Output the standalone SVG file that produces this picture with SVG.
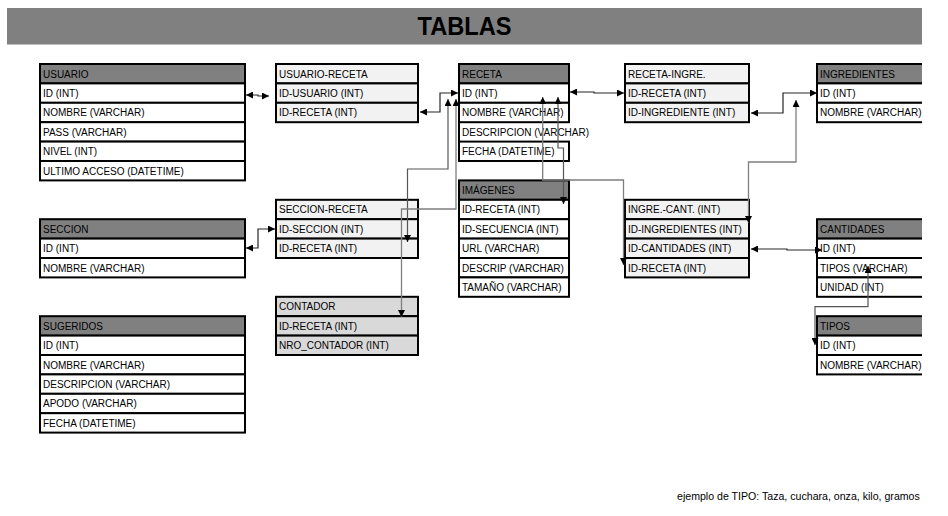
<svg xmlns="http://www.w3.org/2000/svg" width="948" height="516" viewBox="0 0 948 516">
<style>
.h{fill:#808080;stroke:#000;stroke-width:2}
.r{fill:#fff;stroke:#000;stroke-width:2}
.l{fill:#f2f2f2;stroke:#000;stroke-width:2}
.c{fill:#d9d9d9;stroke:#000;stroke-width:2}
text{font-family:"Liberation Sans",Arial,sans-serif;font-size:10px;fill:#000}
.k{fill:none;stroke:#262626;stroke-width:1.2;marker-start:url(#a);marker-end:url(#a)}
.g{fill:none;stroke:#7f7f7f;stroke-width:1.3;marker-start:url(#a);marker-end:url(#a)}
.m{fill:none;stroke:#555;stroke-width:1.2;marker-start:url(#a);marker-end:url(#a)}
</style>
<defs>
<marker id="a" markerUnits="userSpaceOnUse" markerWidth="8" markerHeight="7" refX="7" refY="3.5" orient="auto-start-reverse"><path d="M0,0 L7,3.5 L0,7 z" fill="#000"/></marker>
<clipPath id="cr"><rect x="0" y="0" width="922" height="516"/></clipPath>
</defs>
<rect x="0" y="0" width="948" height="516" fill="#fff"/>
<g id="title">
<rect x="7" y="8" width="915" height="36.5" fill="#808080"/>
<text x="464.5" y="35" text-anchor="middle" style="font-size:25px;font-weight:bold" textLength="94" lengthAdjust="spacingAndGlyphs">TABLAS</text>
</g>

<g id="usuario">
<rect class="h" x="40" y="64" width="205" height="19.4"/>
<rect class="r" x="40" y="83.4" width="205" height="19.4"/>
<rect class="r" x="40" y="102.8" width="205" height="19.4"/>
<rect class="r" x="40" y="122.2" width="205" height="19.4"/>
<rect class="r" x="40" y="141.6" width="205" height="19.4"/>
<rect class="r" x="40" y="161" width="205" height="19.4"/>
<text x="43" y="77.5">USUARIO</text>
<text x="43" y="96.9">ID (INT)</text>
<text x="43" y="116.3">NOMBRE (VARCHAR)</text>
<text x="43" y="135.7">PASS (VARCHAR)</text>
<text x="43" y="155.1">NIVEL (INT)</text>
<text x="43" y="174.5">ULTIMO ACCESO (DATETIME)</text>
</g>

<g id="usuario-receta">
<rect class="l" x="276" y="64" width="142" height="19.4"/>
<rect class="l" x="276" y="83.4" width="142" height="19.4"/>
<rect class="l" x="276" y="102.8" width="142" height="19.4"/>
<text x="279" y="77.5">USUARIO-RECETA</text>
<text x="279" y="96.9">ID-USUARIO (INT)</text>
<text x="279" y="116.3">ID-RECETA (INT)</text>
</g>

<g id="receta">
<rect class="h" x="459" y="64" width="110" height="19.4"/>
<rect class="r" x="459" y="83.4" width="110" height="19.4"/>
<rect class="r" x="459" y="102.8" width="110" height="19.4"/>
<rect class="r" x="459" y="141.6" width="110" height="19.4"/>
<line x1="459" y1="122.2" x2="459" y2="141.6" stroke="#000" stroke-width="2"/>
<text x="462" y="77.5">RECETA</text>
<text x="462" y="96.9">ID (INT)</text>
<text x="462" y="116.3">NOMBRE (VARCHAR)</text>
<text x="462" y="135.7">DESCRIPCION (VARCHAR)</text>
<text x="462" y="155.1">FECHA (DATETIME)</text>
</g>

<g id="receta-ingre">
<rect class="l" x="625" y="64" width="124" height="19.4"/>
<rect class="l" x="625" y="83.4" width="124" height="19.4"/>
<rect class="l" x="625" y="102.8" width="124" height="19.4"/>
<text x="628" y="77.5">RECETA-INGRE.</text>
<text x="628" y="96.9">ID-RECETA (INT)</text>
<text x="628" y="116.3">ID-INGREDIENTE (INT)</text>
</g>

<g id="ingredientes" clip-path="url(#cr)">
<rect class="h" x="817" y="64" width="110" height="19.4"/>
<rect class="r" x="817" y="83.4" width="110" height="19.4"/>
<rect class="r" x="817" y="102.8" width="110" height="19.4"/>
<text x="820" y="77.5">INGREDIENTES</text>
<text x="820" y="96.9">ID (INT)</text>
<text x="820" y="116.3">NOMBRE (VARCHAR)</text>
</g>

<g id="imagenes">
<rect class="h" x="459" y="180.4" width="110" height="19.4"/>
<rect class="r" x="459" y="199.8" width="110" height="19.4"/>
<rect class="r" x="459" y="219.2" width="110" height="19.4"/>
<rect class="r" x="459" y="238.6" width="110" height="19.4"/>
<rect class="r" x="459" y="258" width="110" height="19.4"/>
<rect class="r" x="459" y="277.4" width="110" height="19.4"/>
<text x="462" y="193.9">IMÁGENES</text>
<text x="462" y="213.3">ID-RECETA (INT)</text>
<text x="462" y="232.7">ID-SECUENCIA (INT)</text>
<text x="462" y="252.1">URL (VARCHAR)</text>
<text x="462" y="271.5">DESCRIP (VARCHAR)</text>
<text x="462" y="290.9">TAMAÑO (VARCHAR)</text>
</g>

<g id="seccion-receta">
<rect class="l" x="276" y="199.8" width="142" height="19.4"/>
<rect class="l" x="276" y="219.2" width="142" height="19.4"/>
<rect class="l" x="276" y="238.6" width="142" height="19.4"/>
<text x="279" y="213.3">SECCION-RECETA</text>
<text x="279" y="232.7">ID-SECCION (INT)</text>
<text x="279" y="252.1">ID-RECETA (INT)</text>
</g>

<g id="contador">
<rect class="c" x="276" y="296.8" width="142" height="19.4"/>
<rect class="c" x="276" y="316.2" width="142" height="19.4"/>
<rect class="c" x="276" y="335.6" width="142" height="19.4"/>
<text x="279" y="310.3">CONTADOR</text>
<text x="279" y="329.7">ID-RECETA (INT)</text>
<text x="279" y="349.1">NRO_CONTADOR (INT)</text>
</g>

<g id="seccion">
<rect class="h" x="40" y="219.2" width="205" height="19.4"/>
<rect class="r" x="40" y="238.6" width="205" height="19.4"/>
<rect class="r" x="40" y="258" width="205" height="19.4"/>
<text x="43" y="232.7">SECCION</text>
<text x="43" y="252.1">ID (INT)</text>
<text x="43" y="271.5">NOMBRE (VARCHAR)</text>
</g>

<g id="sugeridos">
<rect class="h" x="40" y="316.2" width="205" height="19.4"/>
<rect class="r" x="40" y="335.6" width="205" height="19.4"/>
<rect class="r" x="40" y="355" width="205" height="19.4"/>
<rect class="r" x="40" y="374.4" width="205" height="19.4"/>
<rect class="r" x="40" y="393.8" width="205" height="19.4"/>
<rect class="r" x="40" y="413.2" width="205" height="19.4"/>
<text x="43" y="329.7">SUGERIDOS</text>
<text x="43" y="349.1">ID (INT)</text>
<text x="43" y="368.5">NOMBRE (VARCHAR)</text>
<text x="43" y="387.9">DESCRIPCION (VARCHAR)</text>
<text x="43" y="407.3">APODO (VARCHAR)</text>
<text x="43" y="426.7">FECHA (DATETIME)</text>
</g>

<g id="ingre-cant">
<rect class="l" x="625" y="199.8" width="124" height="19.4"/>
<rect class="l" x="625" y="219.2" width="124" height="19.4"/>
<rect class="l" x="625" y="238.6" width="124" height="19.4"/>
<rect class="l" x="625" y="258" width="124" height="19.4"/>
<text x="628" y="213.3">INGRE.-CANT. (INT)</text>
<text x="628" y="232.7">ID-INGREDIENTES (INT)</text>
<text x="628" y="252.1">ID-CANTIDADES (INT)</text>
<text x="628" y="271.5">ID-RECETA (INT)</text>
</g>

<g id="cantidades" clip-path="url(#cr)">
<rect class="h" x="817" y="219.2" width="110" height="19.4"/>
<rect class="r" x="817" y="238.6" width="110" height="19.4"/>
<rect class="r" x="817" y="258" width="110" height="19.4"/>
<rect class="r" x="817" y="277.4" width="110" height="19.4"/>
<text x="820" y="232.7">CANTIDADES</text>
<text x="820" y="252.1">ID (INT)</text>
<text x="820" y="271.5">TIPOS (VARCHAR)</text>
<text x="820" y="290.9">UNIDAD (INT)</text>
</g>

<g id="tipos" clip-path="url(#cr)">
<rect class="h" x="817" y="316.2" width="110" height="19.4"/>
<rect class="r" x="817" y="335.6" width="110" height="19.4"/>
<rect class="r" x="817" y="355" width="110" height="19.4"/>
<text x="820" y="329.7">TIPOS</text>
<text x="820" y="349.1">ID (INT)</text>
<text x="820" y="368.5">NOMBRE (VARCHAR)</text>
</g>

<g id="connectors">
<path class="k" d="M246,95 L258,95 L258,96 L269,96"/>
<path class="k" d="M420,112 L440,112 L440,93 L458,93"/>
<path class="m" d="M448,99 L448,169 L407.5,169 L407.5,242"/>
<path class="g" d="M456,99 L456,209 L401.5,209 L401.5,317"/>
<path class="k" d="M570,92 L594,92 L594,93 L624,93"/>
<path class="k" d="M751,113 L783,113 L783,93 L817,93"/>
<path class="g" d="M796,100 L796,162 L748.5,162 L748.5,223"/>
<path class="g" d="M542.7,97 L542.7,180 L623.5,180 L623.5,265"/>
<path class="m" d="M558,97 L558,148 L563.5,148 L563.5,204"/>
<path class="k" d="M246,248 L258,248 L258,229 L275,229"/>
<path class="k" d="M751,249 L787,249 L787,250 L822,250"/>
<path class="m" d="M868,266 L868,306.7 L815,306.7 L815,345"/>
</g>

<text x="677" y="500" style="font-size:10.6px">ejemplo de TIPO: Taza, cuchara, onza, kilo, gramos</text>
</svg>
